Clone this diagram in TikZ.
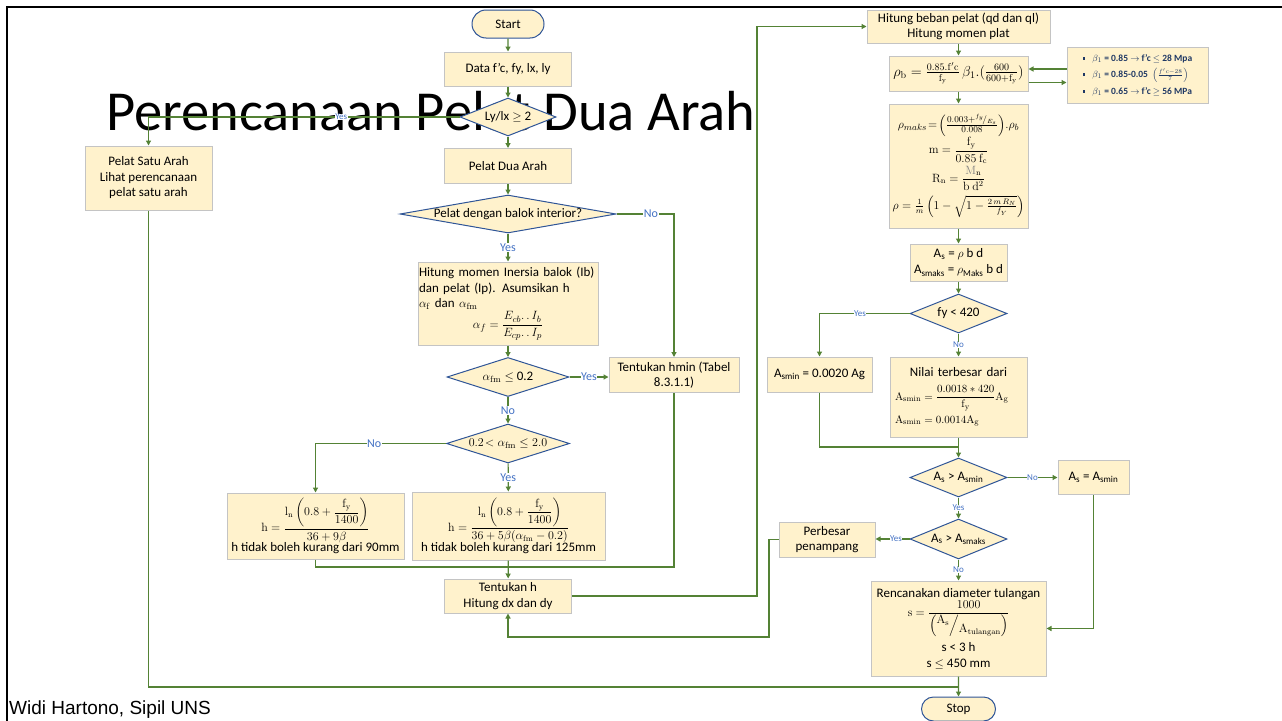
\documentclass[tikz,border=0pt]{standalone}
\usepackage{amsmath}
\usepackage[no-math]{fontspec}
\setmainfont{Carlito}
\newfontfamily\arialfont{Liberation Sans}
\usetikzlibrary{shapes.geometric,shapes.misc,arrows.meta}
\definecolor{boxfill}{HTML}{FFF2CC}
\definecolor{boxdraw}{HTML}{C4C4C4}
\definecolor{decdraw}{HTML}{2F5597}
\definecolor{flow}{HTML}{548235}
\definecolor{lblc}{HTML}{4472C4}
\definecolor{betac}{HTML}{1F3864}
\newcommand{\bul}{\rule[1.5pt]{2.6pt}{2.6pt}\hspace{7pt}}
\begin{document}
\begin{tikzpicture}[x=1pt,y=-1pt,
  font=\fontsize{13}{15.5}\selectfont,
  box/.style={draw=boxdraw, fill=boxfill, line width=1pt, rectangle, inner sep=2pt, align=center},
  dec/.style={diamond, draw=decdraw, fill=boxfill, line width=1pt, inner sep=0pt},
  term/.style={rounded rectangle, draw=decdraw, fill=boxfill, line width=1pt, inner sep=0pt},
  sz/.style 2 args={minimum width=#1pt, minimum height=#2pt},
  flowline/.style={draw=flow, line width=1.2pt},
  conn/.style={flowline, -{Triangle[length=5pt,width=5pt]}},
  lbl/.style={fill=white, text=lblc, inner sep=0.5pt, font=\fontsize{12}{14}\selectfont},
  slbl/.style={fill=white, text=lblc, inner sep=0.5pt, font=\fontsize{9}{11}\selectfont},
]
\useasboundingbox (0,0) rectangle (1282,720);
% frame
\draw[line width=2pt] (7,721) -- (7,7) -- (1283,7);
% title and footer
\node[anchor=base west, inner sep=0pt, font=\fontsize{56.5}{60}\selectfont] (title) at (106,130) {Perencanaan Pelat Dua Arah};
\node[anchor=base west, inner sep=0pt, font=\arialfont\fontsize{19}{21}\selectfont] (footer) at (9,714) {Widi Hartono, Sipil UNS};

% ---------- centre column ----------
\node[term, sz={72}{28}] (start) at (508,24) {Start};
\node[box, sz={127}{34}] (data) at (508,69) {Data f’c, fy, lx, ly};
\node[dec, sz={96}{38}] (ratio) at (508,117) {\makebox[0pt]{Ly/lx $\geq$ 2}};
\node[box, sz={127}{35}] (dua) at (508,166) {Pelat Dua Arah};
\node[dec, sz={216}{38}] (interior) at (508,214) {\makebox[0pt]{Pelat dengan balok interior?}};
\node[box, sz={180}{83}, inner xsep=1pt, text width=178pt, align=left] (inersia) at (508,303.5)
  {Hitung momen Inersia balok (Ib)\\ dan pelat (Ip). Asumsikan h\\ $\alpha_{\mathrm f}$ dan $\alpha_{\mathrm{fm}}$\\[1pt]
   \makebox[178pt][c]{$\alpha_f = \dfrac{E_{cb}.\,.\,I_b}{E_{cp}.\,.\,I_p}$}};
\node[dec, sz={122}{39}] (afm) at (508,377) {\makebox[0pt]{$\alpha_{\mathrm{fm}}\le$ 0.2}};
\node[box, sz={130}{35}] (hmin) at (674,375) {Tentukan hmin (Tabel\\ 8.3.1.1)};
\node[dec, sz={123}{39}] (afm2) at (508,443.5) {\makebox[0pt]{$0.2\!<\alpha_{\mathrm{fm}}\le 2.0$}};
\node[box, sz={177}{66}] (hleft) at (315.5,526)
  {{\fontsize{11.5}{13}\selectfont$\mathrm{h} = \dfrac{\mathrm{l_n}\left(0.8+\dfrac{\mathrm{f_y}}{1400}\right)}{36+9\beta}$}\\[-1pt] h tidak boleh kurang dari 90mm};
\node[box, sz={193}{68}] (hright) at (508.5,526)
  {{\fontsize{11.5}{13}\selectfont$\mathrm{h} = \dfrac{\mathrm{l_n}\left(0.8+\dfrac{\mathrm{f_y}}{1400}\right)}{36+5\beta(\alpha_{\mathrm{fm}}-0.2)}$}\\[-1pt] h tidak boleh kurang dari 125mm};
\node[box, sz={127}{34}] (tentukanh) at (508,596) {Tentukan h\\ Hitung dx dan dy};
\node[box, sz={127}{64}] (satu) at (148.5,178) {Pelat Satu Arah\\ Lihat perencanaan\\ pelat satu arah};

% ---------- right column ----------
\node[box, sz={183}{33}] (beban) at (958.5,26.5) {Hitung beban pelat (qd dan ql)\\ Hitung momen plat};
\node[box, sz={139}{35}] (rhob) at (958.5,73.5)
  {{\fontsize{14}{16}\selectfont$\rho_{\mathrm b} = \frac{0.85.\mathrm{f'c}}{\mathrm{f_y}}\,\beta_1.(\frac{600}{600+\mathrm{f_y}})$}};
\node[box, sz={141}{56}, align=left, text=betac, font=\bfseries\fontsize{9.5}{16.5}\selectfont] (beta) at (1137.5,75)
  {\bul$\beta_1$ = 0.85 $\rightarrow$ f’c $\le$ 28 Mpa\\
   \bul$\beta_1$ = 0.85-0.05 \ {\fontsize{8}{9}\selectfont$\left(\frac{f'c-28}{7}\right)$}\\
   \bul$\beta_1$ = 0.65 $\rightarrow$ f’c $\ge$ 56 MPa};
\node[box, sz={139}{124}, font=\fontsize{12}{14}\selectfont] (rhomaks) at (958.5,166)
  {{\fontsize{13}{15}\selectfont$\rho_{maks}\!=\!\left(\frac{0.003+{}^{f_y}\!/_{E_s}}{0.008}\right)\!.\rho_b$}\\[0pt]
   $\mathrm{m} = \dfrac{\mathrm{f_y}}{0.85\ \mathrm{f_c}}$\\[1pt]
   $\mathrm{R_n} = \dfrac{{\color{gray}\mathrm{M}}_{\mathrm n}}{\mathrm{b\ d^2}}$\\[4pt]
   $\rho = \frac{1}{m}\left(1-\sqrt{1-\frac{2\,m\,R_N}{f_Y}}\right)$};
\node[box, sz={97}{37}, font=\fontsize{13}{16}\selectfont] (As) at (958.5,262.5)
  {A\textsubscript{s} = $\rho$ b d\\ A\textsubscript{smaks} = $\rho$\textsubscript{Maks} b d};
\node[dec, sz={97}{39}] (fy) at (958.5,313.5) {\makebox[0pt]{fy < 420}};
\node[box, sz={105}{35}] (asmin1) at (819.5,374.5) {A\textsubscript{smin} = 0.0020 Ag};
\node[box, sz={137}{80}, text width=127pt, align=left] (nilai) at (958.5,397)
  {\makebox[127pt][c]{Nilai terbesar dari}\\[8pt]
   {\fontsize{11}{13}\selectfont$\mathrm{A_{smin}} = \dfrac{0.0018 * 420}{\mathrm{f_y}}\mathrm{A_g}$}\\[4pt]
   {\fontsize{11}{13}\selectfont$\mathrm{A_{smin}} = 0.0014\mathrm{A_g}$}};
\node[dec, sz={97}{39}] (asgt) at (958.5,477.5) {\makebox[0pt]{A\textsubscript{s} > A\textsubscript{smin}}};
\node[box, sz={71}{34}] (aseq) at (1093.5,477.5) {A\textsubscript{s} = A\textsubscript{smin}};
\node[dec, sz={97}{40}] (asmaks) at (958.5,539) {\makebox[0pt]{A\textsubscript{s} > A\textsubscript{smaks}}};
\node[box, sz={96}{35}] (perbesar) at (827,539.5) {Perbesar\\ penampang};
\node[box, sz={175}{95}] (rencana) at (958.5,628.5)
  {Rencanakan diameter tulangan\\[0pt]
   {\fontsize{11.5}{13}\selectfont$\mathrm{s} = \dfrac{1000}{\left(\vphantom{\Big|}\raisebox{5pt}{$\mathrm{A_s}$}\Big/\raisebox{-4pt}{$\mathrm{A_{tulangan}}$}\right)}$}\\[5pt]
   s < 3 h\\ s $\le$ 450 mm};
\node[term, sz={74}{24}] (stop) at (958.5,709) {Stop};

% ---------- connectors ----------
\coordinate (m1) at (508,567);
\coordinate (up1) at (757,300);
\coordinate (lp) at (769,637);
\coordinate (m2) at (958.5,447);
\coordinate (m3) at (958.5,687);

\draw[conn] (start) -- (data);
\draw[conn] (data) -- (ratio);
\draw[conn] (ratio) -- (dua);
\draw[conn] (ratio.west) -- node[slbl, pos=0.38]{Yes} (ratio.west -| satu.north) -- (satu.north);
\draw[conn] (dua) -- (interior);
\draw[conn] (interior) -- node[lbl]{Yes} (inersia);
\draw[conn] (interior.east) -- node[lbl, pos=0.6]{No} (interior.east -| hmin.north) -- (hmin.north);
\draw[conn] (inersia) -- (afm);
\draw[conn] (afm.east) -- node[lbl, pos=0.5]{Yes} (afm.east -| hmin.west);
\draw[conn] (afm) -- node[lbl]{No} (afm2);
\draw[conn] (afm2.west) -- node[lbl, pos=0.55]{No} (afm2.west -| hleft.north) -- (hleft.north);
\draw[conn] (afm2) -- node[lbl]{Yes} (hright);
\draw[conn] (hright) -- (tentukanh);
\draw[flowline] (hleft.south) |- (m1);
\draw[flowline] (hmin.south) |- (m1);
\draw[conn] (tentukanh.east) -| (up1) |- (beban.west);
\draw[flowline] (satu.south) |- (m3);

\draw[conn] (beban) -- (rhob);
\draw[conn] ([yshift=6pt]beta.west) coordinate (b1) -- (b1 -| rhob.east);
\draw[conn] ([yshift=-9pt]rhob.east) coordinate (b2) -- (b2 -| beta.west);
\draw[conn] (rhob) -- (rhomaks);
\draw[conn] (rhomaks) -- (As);
\draw[conn] (As) -- (fy);
\draw[conn] (fy.west) -- node[slbl, pos=0.55]{Yes} (fy.west -| asmin1.north) -- (asmin1.north);
\draw[conn] (fy) -- node[slbl]{No} (nilai);
\draw[flowline] (asmin1.south) |- (m2);
\draw[conn] (nilai) -- (asgt);
\draw[conn] (asgt.east) -- node[slbl]{No} (asgt.east -| aseq.west);
\draw[conn] (aseq.south) |- (rencana.east);
\draw[conn] (asgt) -- node[slbl]{Yes} (asmaks);
\draw[conn] (asmaks.west) -- node[slbl, pos=0.4]{Yes} (asmaks.west -| perbesar.east);
\draw[conn] (asmaks) -- node[slbl]{No} (rencana);
\draw[conn] (perbesar.west) -| (lp) -| (tentukanh.south);
\draw[conn] (rencana) -- (stop);
\end{tikzpicture}
\end{document}
